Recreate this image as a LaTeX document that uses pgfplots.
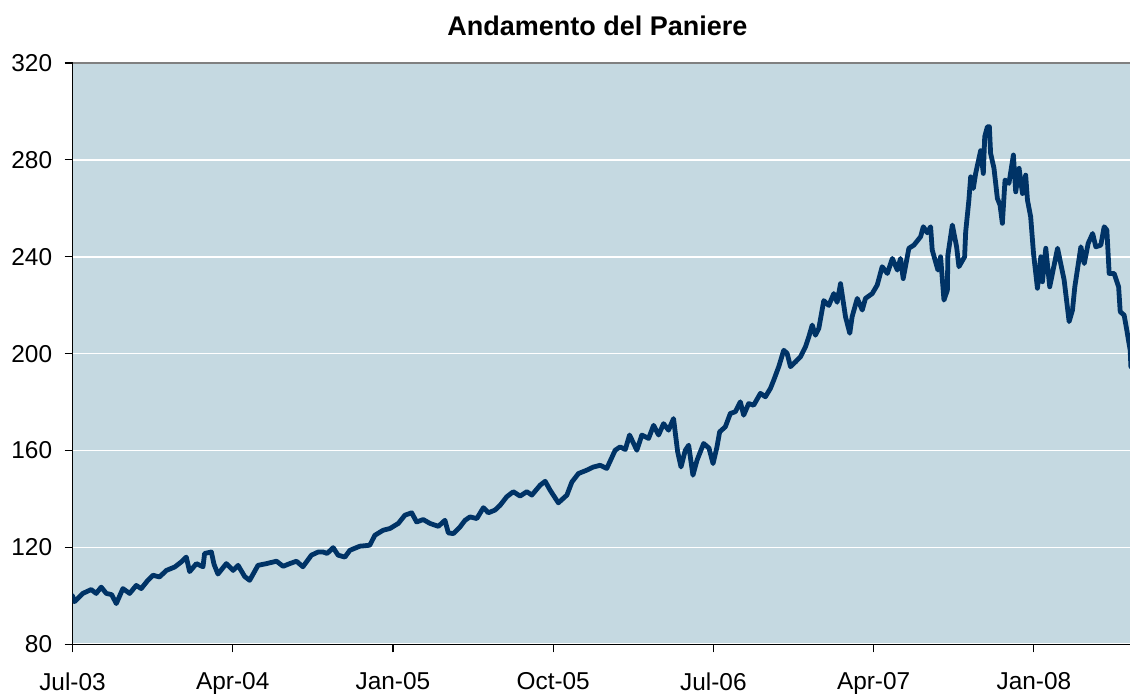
\documentclass[border=0pt]{standalone}
\usepackage{pgfplots}
\pgfplotsset{compat=1.18}
\usepackage{fontspec}
\setmainfont{Liberation Sans}
\definecolor{bgblue}{RGB}{197,217,225}
\definecolor{navy}{RGB}{0,51,102}
\begin{document}
\begin{tikzpicture}
\begin{axis}[
  name=ax,
  scale only axis,
  width=528.75pt, height=290.65pt,
  xmin=0, xmax=59.4, ymin=80, ymax=320,
  xtick={0,9,18,27,36,45,54},
  xticklabels={Jul-03,Apr-04,Jan-05,Oct-05,Jul-06,Apr-07,Jan-08},
  ytick={80,120,160,200,240,280,320},
  axis x line*=bottom, axis y line*=left,
  axis line style={-, black, line width=0.6pt},
  tick align=outside,
  major tick length=4pt,
  tick style={black, line width=0.6pt},
  ymajorgrids,
  major grid style={white, line width=0.8pt},
  axis background/.style={fill=bgblue},
  /pgf/number format/assume math mode=true,
  ticklabel style={font=\fontsize{12.2}{14}\selectfont},
  xticklabel style={inner sep=0pt, anchor=north, yshift=-10pt},
  yticklabel style={inner sep=0pt, anchor=east, xshift=-6pt},
  title={Andamento del Paniere},
  title style={at={(0.5,1)}, anchor=base, yshift=7.5pt, xshift=-1.9pt, font=\fontsize{13.5}{16}\selectfont\bfseries},
]
\draw[gray, line width=0.8pt] (rel axis cs:0,1) -- (rel axis cs:1,1);
\addplot[navy, line width=2.4pt, line join=round, line cap=round] table {
0 100
0.11 97.6
0.58 101
1.05 102.6
1.33 101
1.61 103.6
1.90 101
2.2 100.5
2.46 96.8
2.83 103
3.21 101
3.58 104.3
3.86 103
4.23 106.4
4.52 108.5
4.89 107.8
5.27 110.5
5.74 111.9
6.11 114
6.39 116
6.58 110
6.96 113.3
7.33 112
7.42 117.5
7.80 118.1
7.95 113
8.17 109
8.64 113.3
9.02 110.5
9.30 112.6
9.67 108
9.95 106.4
10.42 112.6
10.89 113.3
11.46 114.3
11.83 112.2
12.20 113.3
12.58 114.3
12.94 112
13.42 116.8
13.80 118.1
14.08 118.1
14.3 117.5
14.64 119.9
14.92 116.8
15.30 116
15.58 118.8
16.14 120.5
16.70 120.9
16.98 125
17.45 127.1
17.83 127.8
18.30 129.9
18.67 133.3
19.05 134.3
19.33 130.5
19.70 131.5
20.08 129.9
20.55 128.7
20.92 131.2
21.11 126
21.39 125.7
21.77 128.5
22.05 131.2
22.33 132.6
22.71 131.9
23.08 136.4
23.36 134.3
23.73 135.4
24.02 137.4
24.39 140.9
24.76 143
25.14 141.2
25.52 143
25.80 141.6
26.27 145.7
26.55 147.3
26.83 143.6
27.29 138.4
27.77 141.6
28.05 147
28.42 150.5
28.89 151.9
29.26 153.2
29.64 153.9
30.01 152.6
30.48 160.1
30.76 161.5
31.05 160.4
31.29 166.4
31.70 160.1
31.98 166.4
32.36 165
32.64 170.4
32.92 166.4
33.20 171.1
33.48 168.4
33.76 173.2
33.99 159.5
34.18 153.2
34.42 160.1
34.61 162.2
34.85 149.8
35.08 156
35.45 162.9
35.75 161
35.98 154.6
36.20 161.5
36.35 167.7
36.67 169.8
36.95 175.3
37.23 176
37.51 180.1
37.70 174.6
37.98 179.4
38.26 178.7
38.64 183.6
38.92 182.2
39.20 185.6
39.39 189.1
39.67 194.6
39.95 201.4
40.14 200.1
40.33 194.6
40.61 196.6
40.89 198.7
41.17 202.8
41.36 207
41.55 211.8
41.73 207.6
41.92 210.4
42.20 221.9
42.48 219.9
42.76 224.8
42.95 221.2
43.14 228.9
43.42 215.2
43.66 208.4
43.79 215.2
44.08 222.8
44.36 218
44.54 222.8
44.92 224.8
45.20 228.3
45.48 235.9
45.77 233.1
46.05 239.3
46.33 234.5
46.51 239.3
46.66 231
46.98 243.5
47.26 244.8
47.64 248.3
47.79 252.4
48.01 249.9
48.20 252.4
48.29 242.8
48.61 234.5
48.76 240
48.95 222.1
49.14 226.2
49.17 240.7
49.42 253.1
49.66 244.1
49.79 235.9
50.11 240
50.17 250.3
50.35 263.4
50.45 273
50.60 268.2
50.73 274.4
51.01 283.8
51.16 274.4
51.24 289.6
51.39 293.7
51.50 293.7
51.57 282.7
51.76 276.5
51.95 264.1
52.10 261.3
52.23 253.8
52.38 271.7
52.60 270.3
52.85 282
52.98 266.8
53.17 276.5
53.36 266.1
53.54 273.7
53.64 263.4
53.82 256.5
53.98 241.4
54.20 227
54.39 240
54.48 229.7
54.67 243.5
54.89 227.6
55.33 243.5
55.70 230.4
55.98 213.2
56.17 218
56.30 227.6
56.64 244.1
56.83 237.2
57.05 245.5
57.30 249.6
57.48 244.1
57.76 244.8
57.95 252.4
58.10 251
58.23 233.1
58.51 233.1
58.76 227.6
58.85 217.3
59.07 215.9
59.22 209.7
59.41 201.4
59.45 194.6
};
\end{axis}
\pgfresetboundingbox
\path[use as bounding box] ([xshift=-36.25pt,yshift=-24.85pt]ax.south west) rectangle ([yshift=31.5pt]ax.north east);
\end{tikzpicture}
\end{document}
